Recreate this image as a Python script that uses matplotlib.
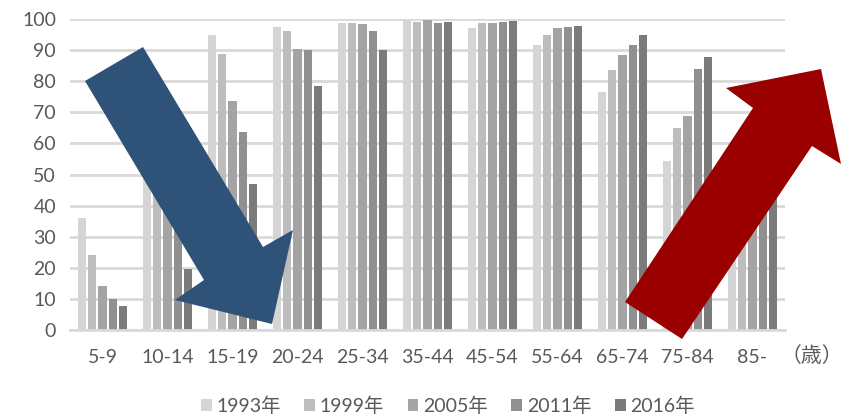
import matplotlib.pyplot as plt
import numpy as np
from matplotlib.patches import Polygon

plt.rcParams['font.family'] = ['Lato', 'Noto Sans CJK JP', 'DejaVu Sans']

# age groups and survey years
ages = ['5-9', '10-14', '15-19', '20-24', '25-34', '35-44', '45-54', '55-64', '65-74', '75-84', '85-']
years = ['1993年', '1999年', '2005年', '2011年', '2016年']

# values per year (10-14 and 85- are hidden by the arrows, estimated)
v1993 = [36, 78, 95, 97.5, 98.6, 99.7, 97.2, 91.8, 76.6, 54.2, 28]
v1999 = [24.2, 65, 88.8, 96, 98.6, 99, 98.6, 94.9, 83.5, 64.8, 42]
v2005 = [14.3, 52, 73.6, 90.2, 98.3, 99.8, 98.6, 97.1, 88.4, 68.7, 50]
v2011 = [9.9, 35, 63.8, 89.9, 96, 98.6, 99, 97.5, 91.8, 83.8, 62]
v2016 = [7.8, 19.7, 47, 78.5, 90, 99, 99.5, 97.9, 95, 87.7, 70]
series = [v1993, v1999, v2005, v2011, v2016]

colors = ['#D5D5D5', '#BDBDBD', '#A4A4A4', '#909090', '#7B7B7B']

W, H = 844, 417
fig = plt.figure(figsize=(W / 100, H / 100), dpi=100)
ax = fig.add_axes([70 / W, 1 - 330 / H, 715 / W, 311 / H])

x = np.arange(len(ages))
step = 0.154
bars = []
for i, vals in enumerate(series):
    b = ax.bar(x + (i - 2) * step, vals, width=step * 0.8, color=colors[i], zorder=2, label=years[i])
    bars.append(b)

ax.set_xlim(-0.5, len(ages) - 0.5)
ax.set_ylim(0, 100)
ax.set_yticks(range(0, 101, 10))
ax.yaxis.grid(True, color='#D9D9D9', linewidth=2, zorder=0)
for s in ['top', 'right', 'left']:
    ax.spines[s].set_visible(False)
ax.spines['bottom'].set_color('#D9D9D9')
ax.spines['bottom'].set_linewidth(2)
ax.set_xticks(x)
ax.set_xticklabels(ages)
ax.tick_params(axis='both', length=0, labelsize=14, labelcolor='#595959')
ax.tick_params(axis='x', pad=14)
ax.tick_params(axis='y', pad=10)

fig.text(812 / W, 1 - 356 / H, '（歳）', ha='center', va='center', fontsize=15, color='#595959')

fig.legend(handles=bars, labels=years, loc='center', bbox_to_anchor=(448 / W, 1 - 406 / H),
           ncol=5, frameon=False, fontsize=14, labelcolor='#595959',
           handlelength=0.55, handleheight=0.55, handletextpad=0.25, columnspacing=1.2)

# decorative arrows (pixel outline, y measured from top)
blue = [(85, 81), (143, 47), (263, 247), (293, 230), (272, 324), (175, 300), (204, 280)]
red = [(625, 302), (753, 108), (726, 88), (821, 69), (841, 164), (812, 146), (682, 339)]
for pts, c in [(blue, '#2F5279'), (red, '#9B0000')]:
    xy = [(px / W, 1 - py / H) for px, py in pts]
    fig.add_artist(Polygon(xy, closed=True, facecolor=c, edgecolor='none',
                           transform=fig.transFigure, zorder=5))

fig.savefig('out.png', dpi=100)
